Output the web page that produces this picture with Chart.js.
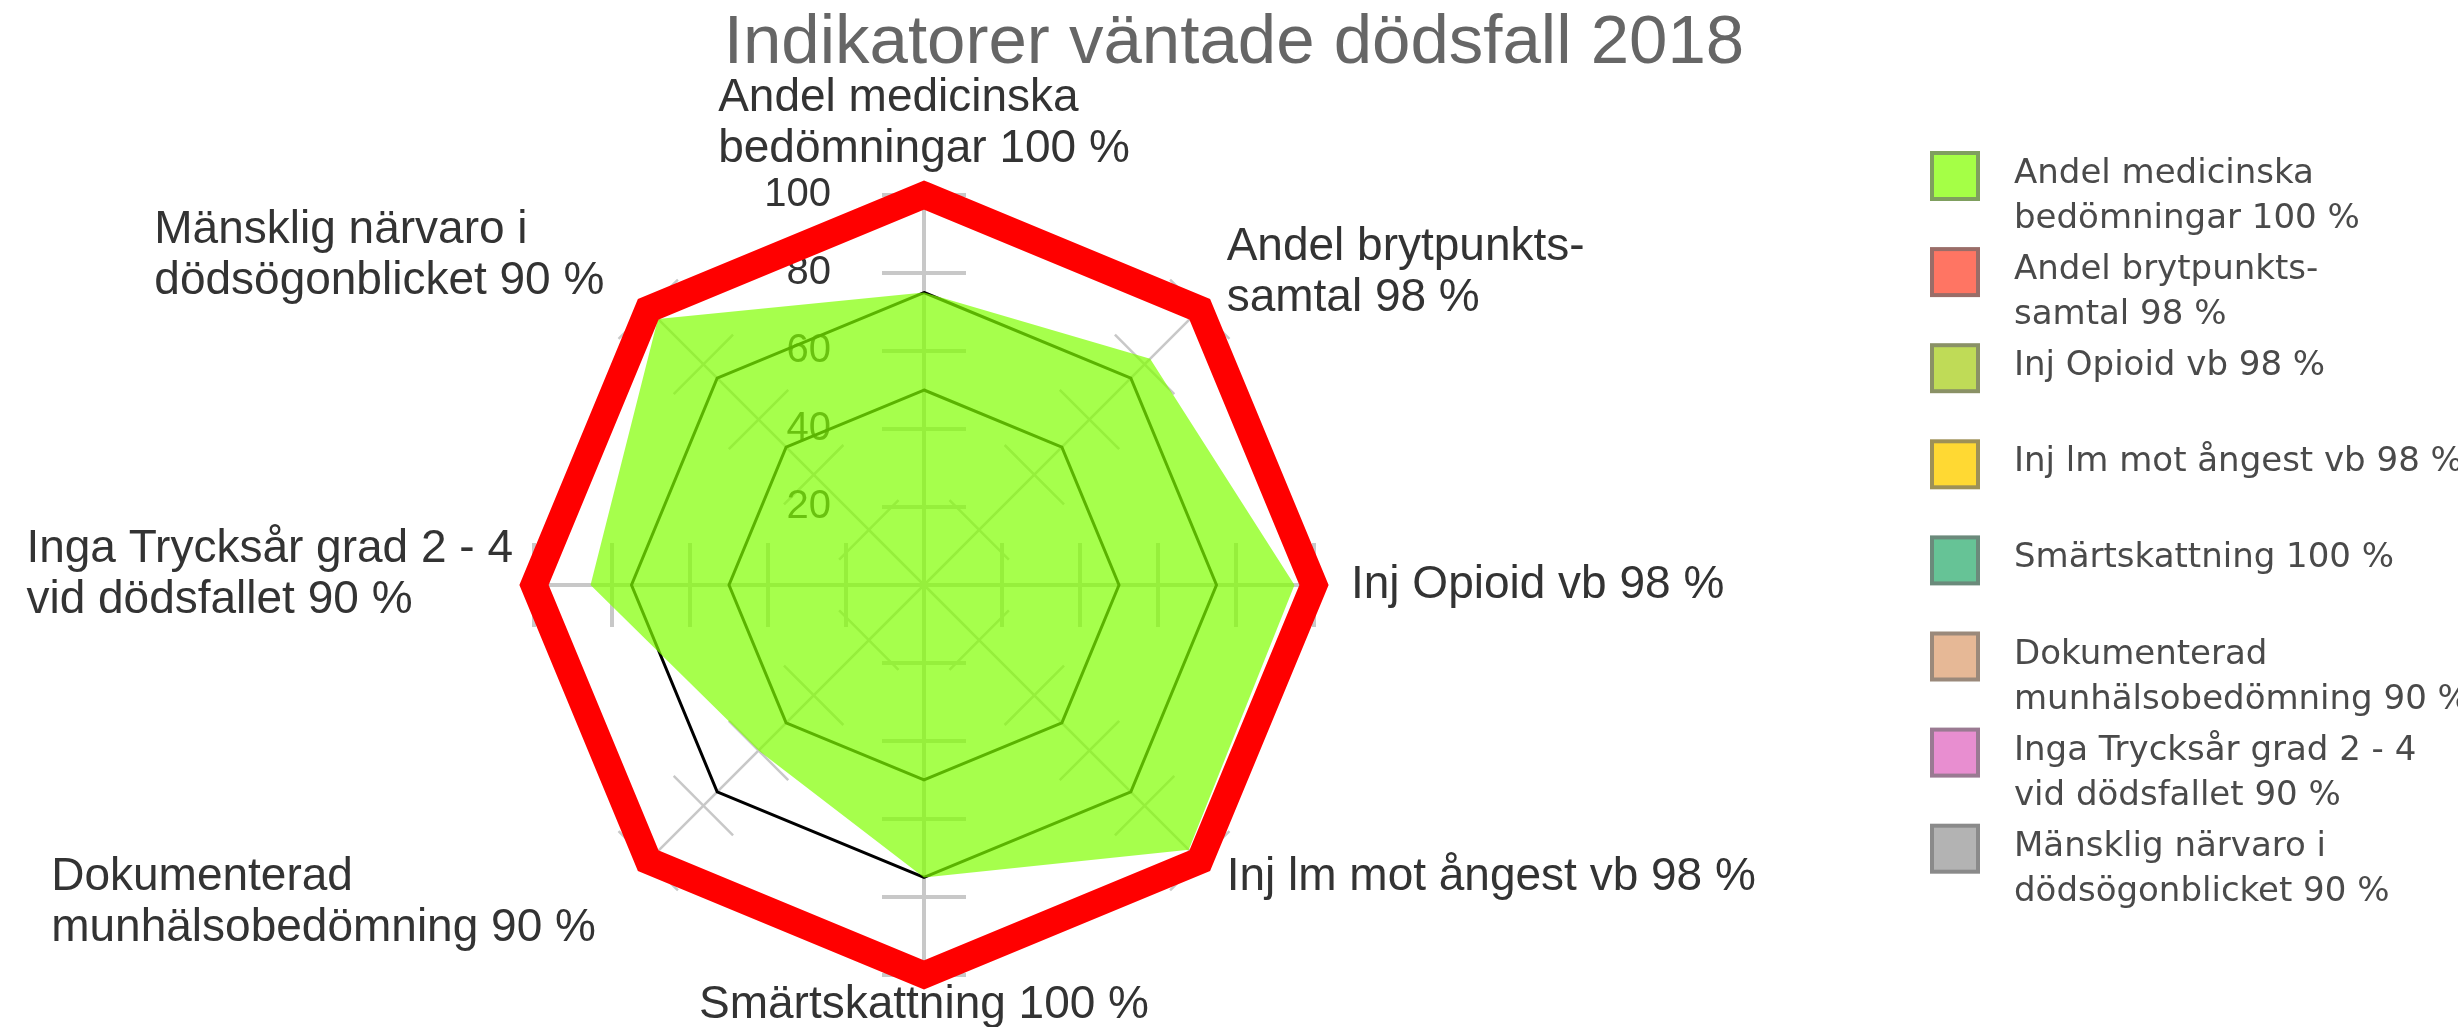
<!DOCTYPE html>
<html>
<head>
<meta charset="utf-8">
<script src="https://cdn.jsdelivr.net/npm/chart.js@4.4.1/dist/chart.umd.min.js"></script>
<style>
  html, body { margin: 0; padding: 0; background: #fff; }
  #wrap { width: 2458px; height: 1027px; }
</style>
</head>
<body>
<div id="wrap"><canvas id="radar" width="2458" height="1027"></canvas></div>
<script>
'use strict';

const chartTitle = 'Indikatorer väntade dödsfall 2018';
const categories = [
  ['Andel medicinska', 'bedömningar 100 %'],
  ['Andel brytpunkts-', 'samtal 98 %'],
  ['Inj Opioid vb 98 %'],
  ['Inj lm mot ångest vb 98 %'],
  ['Smärtskattning 100 %'],
  ['Dokumenterad', 'munhälsobedömning 90 %'],
  ['Inga Trycksår grad 2 - 4', 'vid dödsfallet 90 %'],
  ['Mänsklig närvaro i', 'dödsögonblicket 90 %'],
];
const targetValues = [100, 100, 100, 100, 100, 100, 100, 100];
const resultValues = [75, 82, 95, 96, 75, 60, 85.5, 96.5];
const upperLevel = [75, 75, 75, 75, 75, 75, 75, 75];
const lowerLevel = [50, 50, 50, 50, 50, 50, 50, 50];
const tickValues = [20, 40, 60, 80, 100];

// legend swatches (fill / edge)
const legendFill = ['#a5ff46', '#ff7563', '#bfdb57', '#ffd933', '#66c396', '#e6b896', '#e88ed0', '#b3b3b3'];
const legendEdge = ['#7f9f5f', '#9a6d68', '#8a9166', '#9e9157', '#6b8a7b', '#9a897b', '#9a7a92', '#8a8a8a'];

const LABEL_FONT = '46px "Liberation Sans", Arial, sans-serif';
const labelPads = [20, 38, 37, 38, 5, 74, 21, 62];

const decor = {
  id: 'decor',
  beforeDatasetsDraw(chart) {
    const s = chart.scales.r;
    const ctx = chart.ctx;
    ctx.save();
    // tick marks across every spoke
    ctx.strokeStyle = '#c8c8c8';
    categories.forEach((_, i) => {
      const a = s.getIndexAngle(i) - Math.PI / 2;
      const px = -Math.sin(a);
      const py = Math.cos(a);
      ctx.lineWidth = i % 2 ? 2.5 : 4;
      tickValues.forEach((v) => {
        const p = s.getPointPositionForValue(i, v);
        ctx.beginPath();
        ctx.moveTo(p.x - px * 42, p.y - py * 42);
        ctx.lineTo(p.x + px * 42, p.y + py * 42);
        ctx.stroke();
      });
    });
    // tick labels, left of the top spoke
    ctx.fillStyle = '#333';
    ctx.font = '40px "Liberation Sans", Arial, sans-serif';
    ctx.textAlign = 'right';
    ctx.textBaseline = 'middle';
    tickValues.forEach((v) => {
      ctx.fillText(String(v), s.xCenter - 93, s.yCenter - s.getDistanceFromCenterForValue(v));
    });
    ctx.restore();
  },
  afterDraw(chart) {
    const s = chart.scales.r;
    const ctx = chart.ctx;
    ctx.save();

    // point labels
    const lh = 51;
    ctx.font = LABEL_FONT;
    ctx.fillStyle = '#333';
    ctx.textAlign = 'left';
    ctx.textBaseline = 'middle';
    categories.forEach((lines, i) => {
      const p = s.getPointPosition(i, s.drawingArea + labelPads[i]);
      const w = Math.max(...lines.map((t) => ctx.measureText(t).width));
      const h = lines.length * lh;
      let left;
      let top;
      if (i === 0) { left = p.x - w / 2; top = p.y - h; }
      else if (i === 4) { left = p.x - w / 2; top = p.y; }
      else if (i < 4) { left = p.x; top = p.y - h / 2; }
      else { left = p.x - w; top = p.y - h / 2; }
      if (i !== 0 && i !== 2 && i !== 4) top -= 10;
      lines.forEach((t, k) => ctx.fillText(t, left, top + lh * (k + 0.5)));
    });

    // title
    ctx.font = '69px "Liberation Sans", Arial, sans-serif';
    ctx.fillStyle = '#666';
    ctx.textAlign = 'center';
    ctx.textBaseline = 'alphabetic';
    ctx.fillText(chartTitle, 1234, 63);

    // legend
    ctx.font = '34px "DejaVu Sans", sans-serif';
    ctx.textAlign = 'left';
    categories.forEach((lines, i) => {
      const cy = 176 + i * 96.1;
      ctx.fillStyle = legendEdge[i];
      ctx.fillRect(1930, cy - 25, 50, 50);
      ctx.fillStyle = legendFill[i];
      ctx.fillRect(1934, cy - 21, 42, 42);
      ctx.fillStyle = '#4a4a4a';
      lines.forEach((t, k) => ctx.fillText(t, 2014, cy + 7 + k * 45));
    });
    ctx.restore();
  },
};

new Chart(document.getElementById('radar'), {
  type: 'radar',
  data: {
    labels: categories,
    datasets: [
      { label: 'Mål', data: targetValues, borderColor: '#ff0000', borderWidth: 27, fill: false, order: 0 },
      { label: 'Resultat', data: resultValues, backgroundColor: 'rgba(128,255,0,0.7)', borderWidth: 0, fill: true, order: 1 },
      { label: 'Nivå 75', data: upperLevel, borderColor: '#000', borderWidth: 3, fill: false, order: 2 },
      { label: 'Nivå 50', data: lowerLevel, borderColor: '#000', borderWidth: 3, fill: false, order: 3 },
    ],
  },
  options: {
    responsive: false,
    animation: false,
    events: [],
    layout: { padding: { left: 534, top: 195, right: 1144, bottom: 52 } },
    elements: { point: { radius: 0, hoverRadius: 0 }, line: { tension: 0 } },
    scales: {
      r: {
        min: 0,
        max: 100,
        ticks: { display: false, stepSize: 20 },
        grid: { display: false },
        pointLabels: { display: false },
        angleLines: { display: true, color: '#c8c8c8', lineWidth: (c) => (c.index % 2 ? 2.5 : 4) },
      },
    },
    plugins: { legend: { display: false }, tooltip: { enabled: false } },
  },
  plugins: [decor],
});
</script>
</body>
</html>
